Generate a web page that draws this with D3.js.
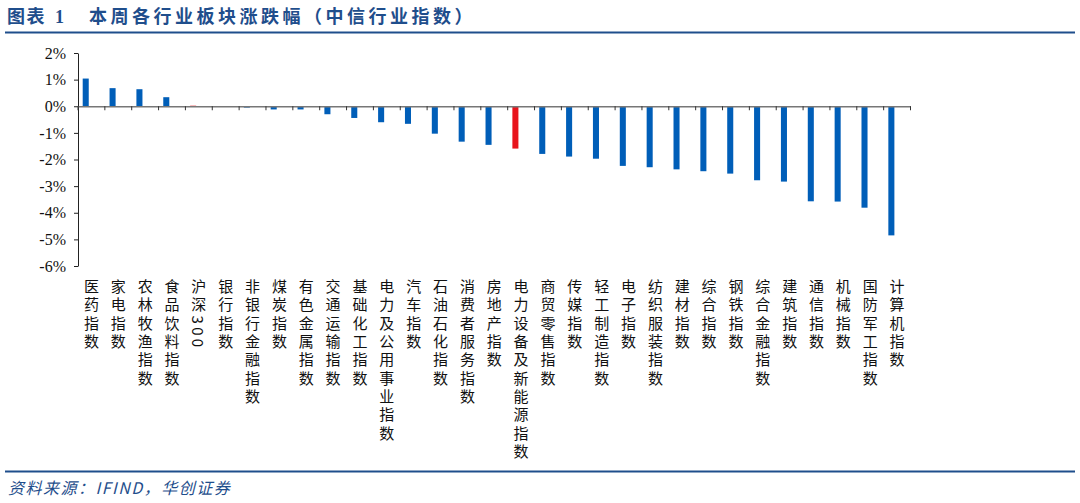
<!DOCTYPE html>
<html>
<head>
<meta charset="utf-8">
<script src="https://cdn.jsdelivr.net/npm/d3@7"></script>
<style>
  body { margin: 0; background: #fff; }
  svg { display: block; }
</style>
</head>
<body>
<svg width="1080" height="503"></svg>
<script>
// 中信行业指数 本周涨跌幅 (%)
var categories = ["医药指数", "家电指数", "农林牧渔指数", "食品饮料指数", "沪深300", "银行指数",
  "非银行金融指数", "煤炭指数", "有色金属指数", "交通运输指数", "基础化工指数", "电力及公用事业指数",
  "汽车指数", "石油石化指数", "消费者服务指数", "房地产指数", "电力设备及新能源指数", "商贸零售指数",
  "传媒指数", "轻工制造指数", "电子指数", "纺织服装指数", "建材指数", "综合指数", "钢铁指数",
  "综合金融指数", "建筑指数", "通信指数", "机械指数", "国防军工指数", "计算机指数"];
var values = [1.04, 0.68, 0.64, 0.34, 0.02, -0.02, -0.05, -0.12, -0.12, -0.30, -0.44, -0.60,
  -0.66, -1.03, -1.33, -1.45, -1.59, -1.79, -1.89, -1.97, -2.24, -2.29, -2.37, -2.44, -2.53,
  -2.78, -2.83, -3.57, -3.58, -3.81, -4.85];
var highlight = ["沪深300", "电力设备及新能源指数"];
var yTicks = [2, 1, 0, -1, -2, -3, -4, -5, -6];

var data = categories.map(function(c, i) { return {name: c, value: values[i]}; });

var svg = d3.select("svg");
var navy = "#1f4e8c";

// title
var title = svg.append("g")
    .attr("font-weight", "bold")
    .attr("font-size", 18)
    .attr("fill", navy);
title.append("text")
    .attr("x", 7).attr("y", 23)
    .attr("font-family", "Noto Sans CJK SC")
    .style("letter-spacing", "1.5px")
    .text("图表");
title.append("text")
    .attr("x", 55).attr("y", 23)
    .attr("font-family", "Liberation Serif")
    .text("1");
title.append("text")
    .attr("x", 89).attr("y", 23)
    .attr("font-family", "Noto Sans CJK SC")
    .style("letter-spacing", "3.5px")
    .text("本周各行业板块涨跌幅（中信行业指数）");

svg.append("line")
    .attr("x1", 5).attr("x2", 1075).attr("y1", 32.5).attr("y2", 32.5)
    .attr("stroke", navy).attr("stroke-width", 2);

svg.append("line")
    .attr("x1", 5).attr("x2", 1075).attr("y1", 471.5).attr("y2", 471.5)
    .attr("stroke", navy).attr("stroke-width", 2);

svg.append("text")
    .attr("x", 8).attr("y", 494)
    .attr("font-family", "Noto Sans CJK SC")
    .attr("font-style", "italic")
    .attr("font-size", 16)
    .attr("fill", navy)
    .style("letter-spacing", "1.5px")
    .text("资料来源：IFIND，华创证券");

var x = d3.scaleBand().domain(categories).range([78, 910.5]),
    y = d3.scaleLinear().domain([-6, 2]).range([266, 53]);

// bars
svg.selectAll(".bar")
  .data(data)
  .enter().append("rect")
    .attr("class", "bar")
    .attr("x", function(d) { return x(d.name) + x.bandwidth() * 0.175; })
    .attr("width", x.bandwidth() * 0.225)
    .attr("y", function(d) { return y(Math.max(0, d.value)); })
    .attr("height", function(d) { return Math.abs(y(d.value) - y(0)); })
    .attr("fill", function(d) { return highlight.indexOf(d.name) >= 0 ? "#e8141c" : "#005eb8"; });

// y axis
var yAxis = svg.append("g")
    .attr("transform", "translate(78,0)")
    .call(d3.axisLeft(y).tickValues(yTicks).tickSize(4).tickSizeOuter(0)
      .tickFormat(function(d) { return d + "%"; }));
yAxis.attr("font-family", "Liberation Serif").attr("font-size", 16);
yAxis.select(".domain").attr("stroke", "#222");
yAxis.selectAll(".tick line").attr("stroke", "#222");
yAxis.selectAll(".tick text")
    .attr("fill", "#111")
    .attr("x", -12);

// zero line with category ticks
var xAxis = svg.append("g")
    .attr("transform", "translate(0," + y(0) + ")")
    .call(d3.axisBottom(x).tickSize(0).tickFormat(""));
xAxis.select(".domain").attr("stroke", "#777").attr("stroke-width", 1.5);
xAxis.selectAll(".cat-tick")
  .data(categories.concat([null]))
  .enter().append("line")
    .attr("class", "cat-tick")
    .attr("x1", function(d) { return d ? x(d) : x.range()[1]; })
    .attr("x2", function(d) { return d ? x(d) : x.range()[1]; })
    .attr("y1", 0).attr("y2", 4)
    .attr("stroke", "#333");

// vertical category labels
svg.selectAll(".cat-label")
  .data(categories)
  .enter().append("text")
    .attr("class", "cat-label")
    .attr("x", function(d) { return x(d) + x.bandwidth() / 2; })
    .attr("y", 279)
    .attr("font-family", "Noto Sans CJK SC")
    .attr("font-size", 15)
    .attr("fill", "#111")
    .style("writing-mode", "vertical-rl")
    .style("letter-spacing", "3.3px")
    .text(function(d) { return d; });
</script>
</body>
</html>
